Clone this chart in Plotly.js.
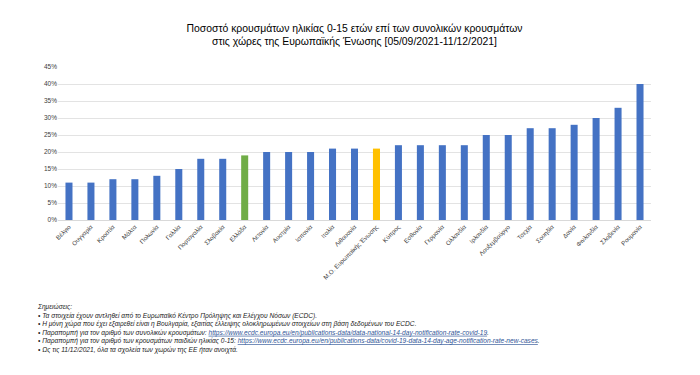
<!DOCTYPE html>
<html><head><meta charset="utf-8">
<script src="https://cdn.plot.ly/plotly-3.0.1.min.js"></script>
<style>html,body{margin:0;padding:0;background:#fff;}#c{width:700px;height:375px;}</style>
</head><body><div id="c"></div>
<script>
const countries = ["Βέλγιο","Ουγγαρία","Κροατία","Μάλτα","Πολωνία","Γαλλία","Πορτογαλία","Σλοβακία","Ελλάδα","Λετονία","Αυστρία","Ισπανία","Ιταλία","Λιθουανία","Μ.Ο. Ευρωπαϊκής Ένωσης","Κύπρος","Εσθονία","Γερμανία","Ολλανδία","Ιρλανδία","Λουξεμβούργο","Τσεχία","Σουηδία","Δανία","Φινλανδία","Σλοβενία","Ρουμανία"];
const shares = [11,11,12,12,13,15,18,18,19,20,20,20,21,21,21,22,22,22,22,25,25,27,27,28,30,33,40];
const highlightGreece = "Ελλάδα";
const highlightEU = "Μ.Ο. Ευρωπαϊκής Ένωσης";
const yTicks = [0,5,10,15,20,25,30,35,40,45];
const notes = [
 "Σημειώσεις:",
 "• Τα στοιχεία έχουν αντληθεί από το Ευρωπαϊκό Κέντρο Πρόληψης και Ελέγχου Νόσων (ECDC).",
 "• Η μόνη χώρα που έχει εξαιρεθεί είναι η Βουλγαρία, εξαιτίας έλλειψης ολοκληρωμένων στοιχείων στη βάση δεδομένων του ECDC.",
 "• Παραπομπή για τον αριθμό των συνολικών κρουσμάτων: <span style='color:#2f5597'><u>https://www.ecdc.europa.eu/en/publications-data/data-national-14-day-notification-rate-covid-19</u></span>.",
 "• Παραπομπή για τον αριθμό των κρουσμάτων παιδιών ηλικίας 0-15: <span style='color:#2f5597'><u>https://www.ecdc.europa.eu/en/publications-data/covid-19-data-14-day-age-notification-rate-new-cases</u></span>.",
 "• Ως τις 11/12/2021, όλα τα σχολεία των χωρών της ΕΕ ήταν ανοιχτά."
];
const colors = countries.map(c => c===highlightGreece ? "#70AD47" : (c===highlightEU ? "#FFC000" : "#4472C4"));
const F = "Liberation Sans, Arial, sans-serif";
const L = {l:58, r:49, t:67, b:155};
const plotW = 700-L.l-L.r, plotH = 375-L.t-L.b;
Plotly.newPlot("c", [{
  type:"bar", x:countries, y:shares, marker:{color:colors}, hoverinfo:"x+y"
}], {
  width:700, height:375, margin:L, paper_bgcolor:"#fff", plot_bgcolor:"#fff",
  showlegend:false, bargap:0.68,
  title:{text:"Ποσοστό κρουσμάτων ηλικίας 0-15 ετών επί των συνολικών κρουσμάτων<br>στις χώρες της Ευρωπαϊκής Ένωσης [05/09/2021-11/12/2021]",
    font:{family:F, size:10.4, color:"#000", weight:500}, x:0.5, xref:"paper", y:0.915, yanchor:"middle"},
  xaxis:{tickangle:-45, tickfont:{family:F, size:6.2, color:"#404040"}, showline:true, linecolor:"#d9d9d9", linewidth:1, ticks:"", automargin:false},
  yaxis:{range:[0,45], tickvals:yTicks, ticktext:yTicks.map(v=>v+"%"), tickfont:{family:F, size:6.5, color:"#404040"}, gridcolor:"#e3e3e3", gridwidth:1, zeroline:false, ticks:"", automargin:false, fixedrange:true},
  annotations:[{
    xref:"paper", yref:"paper", x:(35-L.l)/plotW, y:(L.t+plotH-301)/plotH, xanchor:"left", yanchor:"top", align:"left",
    showarrow:false, text:"<i>"+notes.join("<br>")+"</i>", font:{family:F, size:6.6, color:"#222"}
  }]
}, {displayModeBar:false, staticPlot:true});
</script></body></html>
